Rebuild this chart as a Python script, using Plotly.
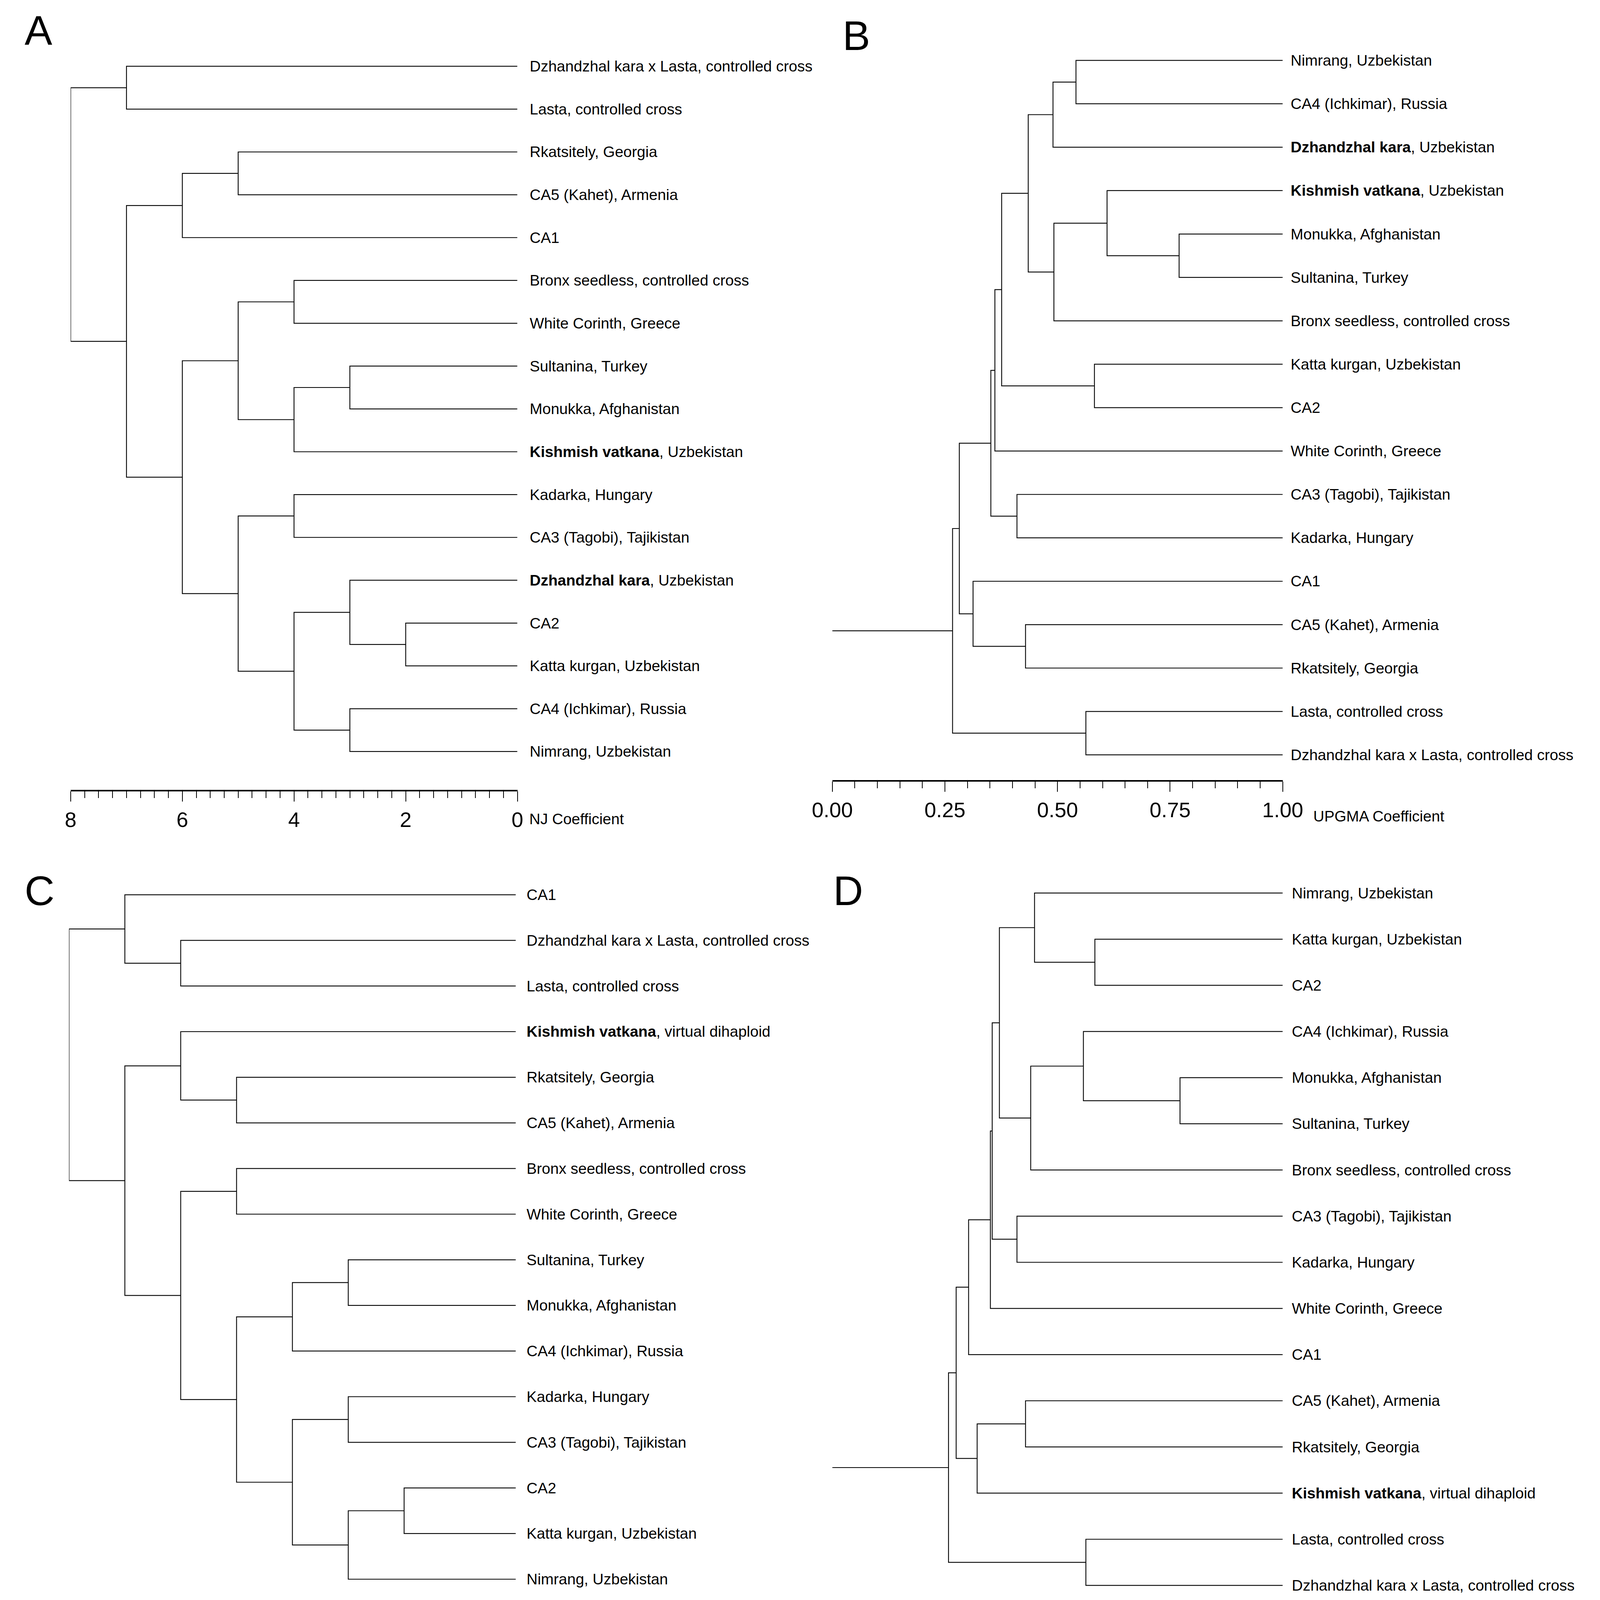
import plotly.graph_objects as go

# reference size; all positions below are fractions of it, the figure itself
# fills the browser window
W, H = 5935, 4592
FONT = "Liberation Sans, Arial, Helvetica, sans-serif"
PAD = 0.2  # leaf steps of room above/below the first/last leaf

# ---- panel A: NJ tree, leaves from top to bottom ----
a_leaves = [
    "Dzhandzhal kara x Lasta, controlled cross",
    "Lasta, controlled cross",
    "Rkatsitely, Georgia",
    "CA5 (Kahet), Armenia",
    "CA1",
    "Bronx seedless, controlled cross",
    "White Corinth, Greece",
    "Sultanina, Turkey",
    "Monukka, Afghanistan",
    "<b>Kishmish vatkana</b>, Uzbekistan",
    "Kadarka, Hungary",
    "CA3 (Tagobi), Tajikistan",
    "<b>Dzhandzhal kara</b>, Uzbekistan",
    "CA2",
    "Katta kurgan, Uzbekistan",
    "CA4 (Ichkimar), Russia",
    "Nimrang, Uzbekistan",
]
# joins: (child, child, height); ints are leaves, "jN" is the N-th join
a_joins = [
    (0, 1, 7), (2, 3, 5), ("j1", 4, 6), (5, 6, 4), (7, 8, 3),
    ("j4", 9, 4), ("j3", "j5", 5), (10, 11, 4), (13, 14, 2), (12, "j8", 3),
    (15, 16, 3), ("j9", "j10", 4), ("j7", "j11", 5), ("j6", "j12", 6),
    ("j2", "j13", 7), ("j0", "j14", 8),
]

# ---- panel B: UPGMA tree ----
b_leaves = [
    "Nimrang, Uzbekistan",
    "CA4 (Ichkimar), Russia",
    "<b>Dzhandzhal kara</b>, Uzbekistan",
    "<b>Kishmish vatkana</b>, Uzbekistan",
    "Monukka, Afghanistan",
    "Sultanina, Turkey",
    "Bronx seedless, controlled cross",
    "Katta kurgan, Uzbekistan",
    "CA2",
    "White Corinth, Greece",
    "CA3 (Tagobi), Tajikistan",
    "Kadarka, Hungary",
    "CA1",
    "CA5 (Kahet), Armenia",
    "Rkatsitely, Georgia",
    "Lasta, controlled cross",
    "Dzhandzhal kara x Lasta, controlled cross",
]
b_joins = [
    (0, 1, 0.541), ("j0", 2, 0.490), (4, 5, 0.770), (3, "j2", 0.610),
    ("j3", 6, 0.492), ("j1", "j4", 0.435), (7, 8, 0.582), ("j5", "j6", 0.376),
    ("j7", 9, 0.361), (10, 11, 0.410), ("j8", "j9", 0.352), (13, 14, 0.429),
    (12, "j11", 0.3125), ("j10", "j12", 0.282), (15, 16, 0.563),
    ("j13", "j14", 0.267),
]

# ---- panel C: NJ tree with virtual dihaploid ----
c_leaves = [
    "CA1",
    "Dzhandzhal kara x Lasta, controlled cross",
    "Lasta, controlled cross",
    "<b>Kishmish vatkana</b>, virtual dihaploid",
    "Rkatsitely, Georgia",
    "CA5 (Kahet), Armenia",
    "Bronx seedless, controlled cross",
    "White Corinth, Greece",
    "Sultanina, Turkey",
    "Monukka, Afghanistan",
    "CA4 (Ichkimar), Russia",
    "Kadarka, Hungary",
    "CA3 (Tagobi), Tajikistan",
    "CA2",
    "Katta kurgan, Uzbekistan",
    "Nimrang, Uzbekistan",
]
c_joins = [
    (1, 2, 6), (0, "j0", 7), (4, 5, 5), (3, "j2", 6), (6, 7, 5),
    (8, 9, 3), ("j5", 10, 4), (11, 12, 3), (13, 14, 2), ("j8", 15, 3),
    ("j7", "j9", 4), ("j6", "j10", 5), ("j4", "j11", 6), ("j3", "j12", 7),
    ("j1", "j13", 8),
]

# ---- panel D: UPGMA tree with virtual dihaploid ----
d_leaves = [
    "Nimrang, Uzbekistan",
    "Katta kurgan, Uzbekistan",
    "CA2",
    "CA4 (Ichkimar), Russia",
    "Monukka, Afghanistan",
    "Sultanina, Turkey",
    "Bronx seedless, controlled cross",
    "CA3 (Tagobi), Tajikistan",
    "Kadarka, Hungary",
    "White Corinth, Greece",
    "CA1",
    "CA5 (Kahet), Armenia",
    "Rkatsitely, Georgia",
    "<b>Kishmish vatkana</b>, virtual dihaploid",
    "Lasta, controlled cross",
    "Dzhandzhal kara x Lasta, controlled cross",
]
d_joins = [
    (1, 2, 0.583), (0, "j0", 0.449), (4, 5, 0.772), (3, "j2", 0.5575),
    ("j3", 6, 0.4405), ("j1", "j4", 0.371), (7, 8, 0.410), ("j5", "j6", 0.355),
    ("j7", 9, 0.351), ("j8", 10, 0.3026), (11, 12, 0.429), ("j10", 13, 0.3216),
    ("j9", "j11", 0.275), (14, 15, 0.563), ("j12", "j13", 0.258),
]


def tree_lines(n, joins, leaf_h, stub_to=None):
    pos = {i: (leaf_h, i) for i in range(n)}
    xs, ys = [], []
    for k, (a, b, h) in enumerate(joins):
        xa, ya = pos[a]
        xb, yb = pos[b]
        xs += [xa, h, h, xb, None]
        ys += [ya, ya, yb, yb, None]
        pos["j%d" % k] = (h, (ya + yb) / 2)
    if stub_to is not None:
        rh, ry = pos["j%d" % (len(joins) - 1)]
        xs += [stub_to, rh, None]
        ys += [ry, ry, None]
    return xs, ys


def xdom(left, right):
    return [left / W, right / W]


def ydom(first, step, n):
    top = first - step * PAD
    bottom = first + step * (n - 1) + step * PAD
    return [max(0, 1 - bottom / H), min(1, 1 - top / H)]


def yrange(n):
    return [n - 1 + PAD, -PAD]


fig = go.Figure()
line = dict(color="black", width=2.2)

panels = [
    # leaves, joins, leaf height, stub, axis id, label shift
    (a_leaves, a_joins, 0, None, "", 29),
    (b_leaves, b_joins, 1, 0, "2", 18),
    (c_leaves, c_joins, 0, None, "3", 26),
    (d_leaves, d_joins, 1, 0, "4", 21),
]

annotations = []
for leaves, joins, leaf_h, stub, ax, shift in panels:
    xs, ys = tree_lines(len(leaves), joins, leaf_h, stub)
    fig.add_trace(go.Scatter(x=xs, y=ys, mode="lines", line=line,
                             xaxis="x" + ax, yaxis="y" + ax,
                             hoverinfo="skip", showlegend=False))
    for i, name in enumerate(leaves):
        annotations.append(dict(
            x=leaf_h, y=i, xref="x" + ax, yref="y" + ax, text=name,
            showarrow=False, xanchor="left", yanchor="middle", xshift=shift,
            font=dict(family=FONT, size=39, color="black")))

hidden = dict(visible=False, showgrid=False, zeroline=False)
scale = dict(showline=True, linewidth=3.5, linecolor="black", ticks="outside",
             ticklen=26, tickwidth=1.8, tickcolor="black", showgrid=False,
             zeroline=False, anchor="free",
             tickfont=dict(family=FONT, size=54, color="black"))
minor = dict(ticks="outside", ticklen=17, tickwidth=1.8, tickcolor="black")

fig.update_layout(
    autosize=True, margin=dict(l=0, r=0, t=0, b=0),
    paper_bgcolor="white", plot_bgcolor="white", showlegend=False,
    xaxis=dict(domain=xdom(179, 1887), range=[8, 0], dtick=2, tick0=0,
               position=1 - 2269 / H, minor=dict(dtick=0.25, **minor), **scale),
    yaxis=dict(domain=ydom(182, 123.4, 17), range=yrange(17), **hidden),
    xaxis2=dict(domain=xdom(3091, 4813), range=[0, 1], dtick=0.25, tick0=0,
                tickformat=".2f", position=1 - 2241 / H,
                minor=dict(dtick=0.05, **minor), **scale),
    yaxis2=dict(domain=ydom(165, 125.06, 17), range=yrange(17), **hidden),
    xaxis3=dict(domain=xdom(172.7, 1881), range=[8, 0], **hidden),
    yaxis3=dict(domain=ydom(2569, 131.47, 16), range=yrange(16), **hidden),
    xaxis4=dict(domain=xdom(3091, 4813), range=[0, 1], **hidden),
    yaxis4=dict(domain=ydom(2564, 133, 16), range=yrange(16), **hidden),
)

# axis titles
for text, px, py in [("NJ Coefficient", 1930, 2351), ("UPGMA Coefficient", 4927, 2343)]:
    annotations.append(dict(x=px / W, y=1 - py / H, xref="paper", yref="paper",
                            text=text, showarrow=False, xanchor="left",
                            yanchor="middle",
                            font=dict(family=FONT, size=39, color="black")))

# panel letters
for text, px, py in [("A", 0, 78), ("B", 3128, 93), ("C", 0, 2557), ("D", 3092, 2557)]:
    annotations.append(dict(x=px / W, y=1 - py / H, xref="paper", yref="paper",
                            text=text, showarrow=False, xanchor="left",
                            yanchor="middle",
                            font=dict(family=FONT, size=106, color="black")))

fig.update_layout(annotations=annotations)

fig.write_html("out.html", default_width="100%",
               default_height="calc(100vh - 16px)")
